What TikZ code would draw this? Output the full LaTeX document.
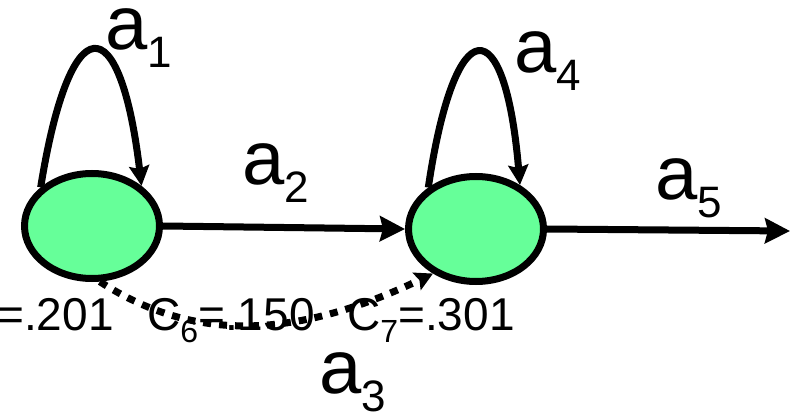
\documentclass[tikz,border=0pt]{standalone}
\usepackage{fontspec}
\setmainfont{Liberation Sans}
\usetikzlibrary{shapes.geometric,arrows.meta,positioning}
\definecolor{stategreen}{RGB}{102,255,153}
\newcommand{\asub}[1]{\raisebox{-18pt}{\fontsize{44}{44}\selectfont #1}}
\newcommand{\csub}[1]{\raisebox{-13pt}{\fontsize{32}{32}\selectfont #1}}

\begin{document}
\begin{tikzpicture}[x=1pt, y=-1pt,
  state/.style={ellipse, draw=black, line width=7pt, fill=stategreen,
                minimum width=135pt, minimum height=105pt, inner sep=0pt},
  arr/.style={-{Stealth[length=25pt,width=25pt,inset=3pt]}, line width=7pt},
  selfarr/.style={-{Stealth[length=20pt,width=20pt,inset=3pt]}, line width=7pt},
  darr/.style={-{Stealth[length=18pt,width=19pt,inset=3pt]}, line width=7pt,
               dash pattern=on 8pt off 8pt},
  alab/.style={anchor=base west, inner sep=0pt, font=\fontsize{76}{76}\selectfont},
  clab/.style={anchor=base west, inner sep=0pt, font=\fontsize{46}{46}\selectfont}
]
  \useasboundingbox (0,0) rectangle (796,417);

  \node[state] (s1) at (92,226) {};
  \node[state] (s2) at (476,229) {};
  \coordinate (out) at (790,231);

  \draw[arr] (s1.east) -- (s2.west);
  \draw[arr] (s2.east) -- (out);

  \draw[selfarr] (s1.143) .. controls (70,5) and (120,5) .. (s1.39);
  \draw[selfarr] (s2.139) .. controls (455,8) and (505,8) .. (s2.45);

  \node[alab] (l1) at (105,50)  {a\asub{1}};
  \node[alab] (l2) at (242,185) {a\asub{2}};
  \node[alab] (l3) at (319,393) {a\asub{3}};
  \node[alab] (l4) at (514,73)  {a\asub{4}};
  \node[alab] (l5) at (655,200) {a\asub{5}};

  \node[clab] (c5) at (-3,330)  {=.201};
  \node[clab] (c6) at (147,330) {C\csub{6}=.150};
  \node[clab] (c7) at (347,330) {C\csub{7}=.301};

  \draw[darr] (s1.-82) .. controls (190,340) and (290,342) .. (s2.-134);
\end{tikzpicture}
\end{document}
